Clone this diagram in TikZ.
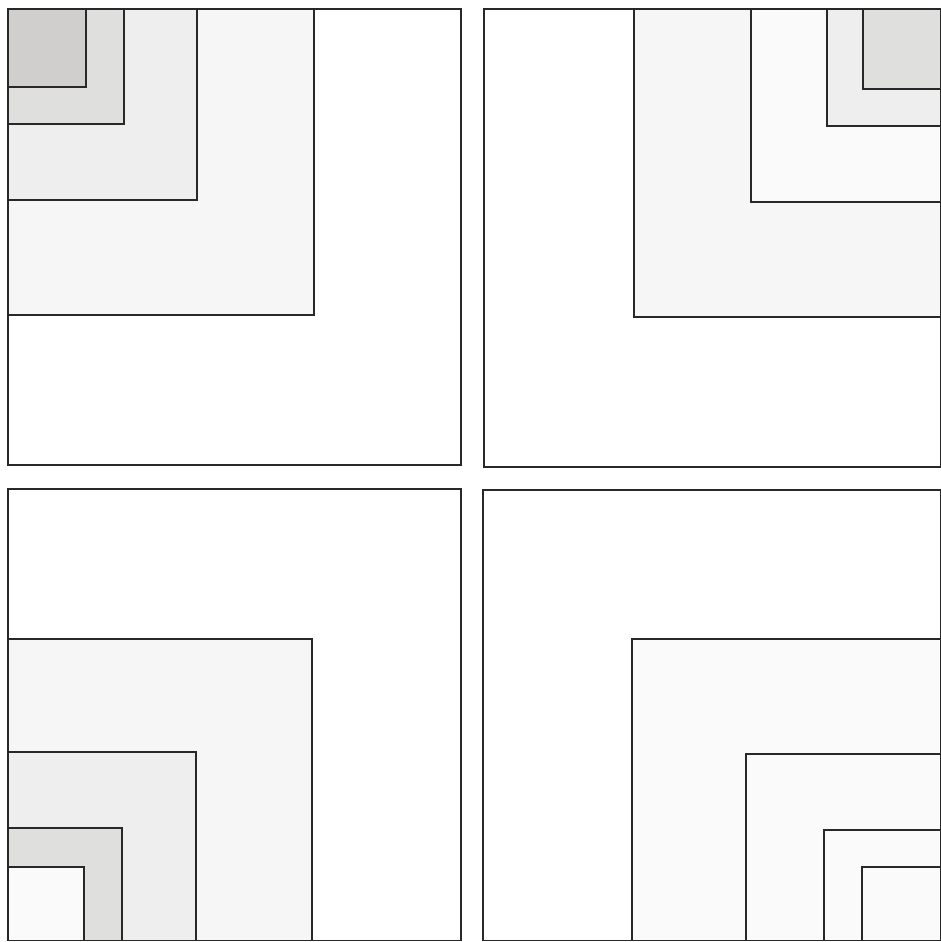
\documentclass[tikz,border=0pt]{standalone}
\usepackage{xcolor}
\usepackage{tikz}
\definecolor{frameline}{RGB}{40,40,40}
\definecolor{mapgray}{RGB}{150,148,146}

\begin{document}
\begin{tikzpicture}[
    x=1pt, y=-1pt,
    frame/.style={draw=frameline, line width=1.2pt},
    tintA/.style={frame, fill=mapgray!8},
    tintB/.style={frame, fill=mapgray!16},
    tintC/.style={frame, fill=mapgray!30},
    tintD/.style={frame, fill=mapgray!45},
    pale/.style={frame, fill=mapgray!5}
]
\useasboundingbox (0,0) rectangle (941,942);
\fill[white] (0,0) rectangle (941,942);

% top left: squares grow from the upper left corner
\draw[frame, fill=white] (8,9) rectangle (461,465);
\draw[tintA] (8,9) rectangle (314,315);
\draw[tintB] (8,9) rectangle (197,200);
\draw[tintC] (8,9) rectangle (124,124);
\draw[tintD] (8,9) rectangle (86,87);

% top right
\draw[frame, fill=white] (484,9) rectangle (940.3,467);
\draw[tintA] (634,9) rectangle (940.3,317);
\draw[pale] (751,9) rectangle (940.3,202);
\draw[tintB] (827,9) rectangle (940.3,126);
\draw[tintC] (863,9) rectangle (940.3,89);

% bottom left
\draw[frame, fill=white] (8,489) rectangle (461,940.6);
\draw[tintA] (8,639) rectangle (312,940.6);
\draw[tintB] (8,752) rectangle (196,940.6);
\draw[tintC] (8,828) rectangle (122,940.6);
\draw[pale] (8,867) rectangle (84,940.6);

% bottom right
\draw[frame, fill=white] (483,490) rectangle (940.3,940.6);
\draw[pale] (632,639) rectangle (940.3,940.6);
\draw[pale] (746,754) rectangle (940.3,940.6);
\draw[pale] (824,830) rectangle (940.3,940.6);
\draw[pale] (862,867) rectangle (940.3,940.6);

\end{tikzpicture}
\end{document}
